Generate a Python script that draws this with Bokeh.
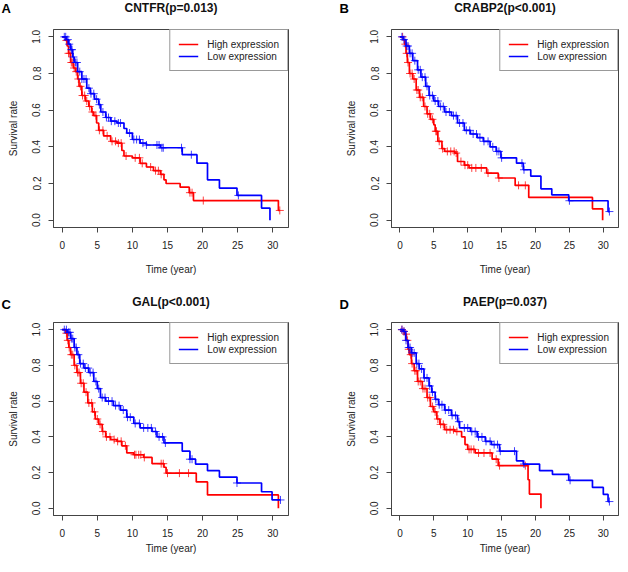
import numpy as np
from bokeh.plotting import figure
from bokeh.layouts import gridplot
from bokeh.models import (Legend, LegendItem, Label, FixedTicker,
                          PrintfTickFormatter)
from bokeh.embed import file_html
from bokeh.resources import INLINE

# ---------------- data ----------------
genes = ["CNTFR", "CRABP2", "GAL", "PAEP"]
pvals = ["p=0.013", "p<0.001", "p<0.001", "p=0.037"]
letters = ["A", "B", "C", "D"]
x_ticks = [0, 5, 10, 15, 20, 25, 30]
y_ticks = [0.0, 0.2, 0.4, 0.6, 0.8, 1.0]
legend_labels = ["High expression", "Low expression"]

# Panel A: CNTFR
a_hi_t = [0.5, 0.7, 0.9, 1.2, 1.6, 1.9, 2.2, 2.4, 2.8, 3.3, 3.8, 4.2, 4.5, 4.9, 5.2, 5.9, 6.9,
          7.8, 8.5, 8.8, 10.0, 11.1, 12.0, 13.0, 14.0, 14.5, 14.8, 16.8, 18.1, 18.7, 30.8]
a_hi_s = [0.98, 0.95, 0.91, 0.86, 0.83, 0.81, 0.77, 0.73, 0.68, 0.65, 0.62, 0.59, 0.57, 0.53,
          0.49, 0.46, 0.43, 0.42, 0.38, 0.35, 0.34, 0.31, 0.29, 0.27, 0.25, 0.22, 0.20, 0.18,
          0.15, 0.107, 0.053]
a_hi_end = 31.0
a_hi_c = [0.6, 0.9, 1.1, 1.3, 1.5, 1.7, 2.0, 2.3, 2.6, 2.9, 3.2, 3.5, 3.9, 4.3, 4.8, 5.3, 5.8,
          6.4, 7.1, 7.6, 8.0, 8.4, 9.1, 10.4, 11.0, 11.4, 12.6, 13.3, 13.7, 14.1, 18.2, 18.5,
          20.1, 31.0]
a_lo_t = [0.6, 0.9, 1.2, 1.5, 1.7, 2.2, 2.8, 3.5, 4.0, 4.6, 5.2, 5.5, 6.2, 6.9, 7.8, 8.8, 9.2,
          10.0, 11.1, 12.0, 14.0, 17.1, 19.2, 20.7, 22.4, 24.9, 28.4, 29.6]
a_lo_s = [0.985, 0.96, 0.93, 0.89, 0.86, 0.81, 0.77, 0.72, 0.69, 0.66, 0.63, 0.59, 0.56, 0.54,
          0.53, 0.50, 0.475, 0.44, 0.42, 0.41, 0.395, 0.357, 0.311, 0.22, 0.175, 0.135, 0.066,
          0.0]
a_lo_end = 29.6
a_lo_c = [0.3, 0.5, 0.8, 1.0, 1.3, 1.4, 1.6, 1.9, 2.1, 2.5, 2.8, 3.1, 3.4, 3.8, 4.1, 4.5, 4.9,
          5.3, 5.8, 6.3, 6.6, 7.0, 7.5, 8.0, 8.3, 9.6, 10.2, 10.6, 11.0, 11.5, 12.0, 13.5, 13.8,
          14.2, 14.4, 17.0, 18.4, 25.1]

# Panel B: CRABP2
b_hi_t = [0.5, 0.7, 0.9, 1.1, 1.4, 1.9, 2.4, 2.9, 3.5, 4.0, 4.5, 5.0, 5.2, 5.6, 6.2, 6.6, 8.1,
          8.5, 9.5, 10.2, 12.8, 14.5, 17.0, 19.0, 28.4, 29.9]
b_hi_s = [0.985, 0.96, 0.91, 0.86, 0.80, 0.77, 0.71, 0.67, 0.62, 0.58, 0.55, 0.52, 0.485, 0.43,
          0.39, 0.375, 0.366, 0.32, 0.30, 0.285, 0.257, 0.23, 0.19, 0.124, 0.062, 0.0]
b_hi_end = 29.9
b_hi_c = [0.4, 0.8, 1.0, 1.2, 1.5, 1.8, 2.1, 2.5, 2.7, 3.0, 3.3, 3.7, 4.1, 4.4, 4.8, 5.3, 5.4,
          5.8, 6.3, 7.0, 7.5, 8.0, 8.3, 9.0, 9.6, 10.0, 10.6, 11.2, 12.0, 13.0, 14.6, 17.5, 18.5]
b_lo_t = [0.5, 0.9, 1.4, 1.9, 2.6, 3.1, 3.8, 4.3, 5.0, 5.7, 6.6, 7.6, 8.5, 9.5, 10.4, 11.4,
          12.3, 13.3, 14.2, 14.9, 17.2, 18.2, 19.3, 20.8, 22.4, 24.9, 30.7]
b_lo_s = [0.985, 0.95, 0.91, 0.87, 0.82, 0.78, 0.73, 0.68, 0.65, 0.62, 0.59, 0.57, 0.53, 0.49,
          0.47, 0.45, 0.43, 0.40, 0.375, 0.34, 0.311, 0.275, 0.24, 0.171, 0.138, 0.106, 0.047]
b_lo_end = 30.9
b_lo_c = [0.3, 0.6, 1.0, 1.2, 1.5, 1.8, 2.2, 2.7, 3.0, 3.3, 3.7, 4.0, 4.4, 4.8, 5.2, 5.6, 6.0,
          6.4, 6.8, 7.3, 7.9, 8.3, 8.8, 9.3, 9.8, 10.3, 10.8, 11.3, 11.8, 12.4, 13.0, 13.7, 14.3,
          14.6, 15.0, 18.0, 18.3, 25.0, 30.9]

# Panel C: GAL
c_hi_t = [0.5, 0.7, 0.95, 1.2, 1.7, 2.1, 2.6, 3.1, 3.65, 4.3, 4.7, 5.2, 5.7, 6.2, 6.9, 7.8,
          8.5, 9.2, 10.2, 11.6, 12.8, 14.5, 14.8, 19.1, 20.7, 30.8]
c_hi_s = [0.98, 0.94, 0.90, 0.86, 0.80, 0.76, 0.70, 0.65, 0.59, 0.54, 0.50, 0.47, 0.43, 0.40,
          0.385, 0.375, 0.35, 0.31, 0.30, 0.285, 0.25, 0.23, 0.197, 0.148, 0.075, 0.0]
c_hi_end = 30.8
c_hi_c = [0.6, 0.8, 1.0, 1.3, 1.5, 1.8, 2.2, 2.4, 2.7, 3.0, 3.4, 3.8, 4.2, 4.6, 5.0, 5.4, 5.8,
          6.3, 6.8, 7.4, 7.9, 8.4, 9.0, 10.3, 10.5, 10.9, 11.2, 11.7, 14.1, 14.4, 15.0, 16.7,
          18.0]
c_lo_t = [0.7, 1.2, 1.7, 2.1, 2.5, 3.1, 3.8, 4.5, 5.0, 5.45, 6.2, 7.3, 8.3, 9.2, 10.2, 11.1,
          12.8, 13.5, 14.5, 17.1, 18.2, 19.0, 20.7, 22.4, 24.9, 28.4, 29.9]
c_lo_s = [0.985, 0.95, 0.90, 0.86, 0.81, 0.785, 0.76, 0.71, 0.67, 0.62, 0.60, 0.575, 0.55,
          0.51, 0.475, 0.45, 0.43, 0.40, 0.366, 0.32, 0.275, 0.248, 0.211, 0.175, 0.142, 0.093,
          0.047]
c_lo_end = 31.1
c_lo_c = [0.3, 0.6, 0.9, 1.1, 1.3, 1.5, 1.8, 2.0, 2.3, 2.6, 3.0, 3.3, 3.7, 4.0, 4.4, 4.8, 5.2,
          5.7, 6.1, 6.6, 7.1, 7.6, 8.1, 8.7, 9.3, 9.7, 10.4, 11.0, 11.6, 12.2, 12.7, 13.3, 13.8,
          14.3, 14.7, 18.2, 18.5, 24.9, 31.1]

# Panel D: PAEP
d_hi_t = [0.5, 0.7, 0.95, 1.2, 1.4, 1.7, 2.1, 2.6, 3.3, 4.0, 4.5, 5.0, 5.45, 5.9, 6.6, 8.1,
          9.1, 9.6, 10.0, 11.1, 13.6, 14.5, 18.9, 19.1, 20.8]
d_hi_s = [0.99, 0.975, 0.94, 0.89, 0.86, 0.81, 0.77, 0.71, 0.67, 0.62, 0.57, 0.54, 0.50, 0.47,
          0.44, 0.43, 0.40, 0.357, 0.33, 0.31, 0.275, 0.239, 0.16, 0.08, 0.0]
d_hi_end = 20.8
d_hi_c = [0.3, 0.6, 0.9, 1.1, 1.3, 1.6, 1.8, 2.2, 2.4, 2.7, 3.0, 3.4, 3.7, 4.1, 4.4, 4.8, 5.2,
          5.6, 6.0, 6.4, 6.9, 7.4, 7.9, 8.4, 10.2, 10.5, 10.9, 11.6, 12.4, 13.3, 14.2, 14.7,
          18.5]
d_lo_t = [0.5, 0.85, 1.2, 1.7, 2.4, 2.85, 3.55, 4.3, 4.7, 5.2, 5.7, 6.6, 7.6, 8.5, 8.8, 10.4,
          11.4, 12.6, 13.5, 14.7, 17.2, 18.2, 20.6, 22.5, 24.9, 28.4, 30.0, 30.7]
d_lo_s = [0.99, 0.94, 0.90, 0.87, 0.81, 0.78, 0.73, 0.685, 0.65, 0.61, 0.58, 0.55, 0.52, 0.485,
          0.45, 0.43, 0.40, 0.375, 0.357, 0.32, 0.266, 0.248, 0.211, 0.19, 0.157, 0.117, 0.078,
          0.038]
d_lo_end = 30.9
d_lo_c = [0.3, 0.6, 0.9, 1.3, 1.5, 1.8, 2.1, 2.5, 2.8, 3.2, 3.6, 4.0, 4.4, 4.8, 5.3, 5.8, 6.2,
          6.7, 7.2, 7.7, 8.2, 8.7, 9.5, 10.0, 10.6, 11.1, 11.6, 12.1, 12.7, 13.3, 13.9, 14.4,
          14.8, 16.9, 18.3, 25.1, 30.9]

panels = [
    (a_hi_t, a_hi_s, a_hi_end, a_hi_c, a_lo_t, a_lo_s, a_lo_end, a_lo_c),
    (b_hi_t, b_hi_s, b_hi_end, b_hi_c, b_lo_t, b_lo_s, b_lo_end, b_lo_c),
    (c_hi_t, c_hi_s, c_hi_end, c_hi_c, c_lo_t, c_lo_s, c_lo_end, c_lo_c),
    (d_hi_t, d_hi_s, d_hi_end, d_hi_c, d_lo_t, d_lo_s, d_lo_end, d_lo_c),
]

# ---------------- styling / layout ----------------
FONT = "Liberation Sans"
RED = "#FF0000"
BLUE = "#0000FF"
AXC = "#444444"
X_RANGE = (-1.24, 32.24)
Y_RANGE = (-0.04, 1.04)

# per column: (width, left border, frame width, letter x (canvas px), letter side panel)
cols = [(310, 53, 235, 1, "right"), (310, 81, 227, 29, "left")]
# per row: (height, top border, frame height, title y, x-axis-label standoff, letter y)
rows = [(278, 29, 198, 7, 12, 8), (278, 44, 194, 23, 3, 26)]


def km_xy(times, surv, end):
    xs = [0.0] + list(times)
    ys = [1.0] + list(surv)
    if end > xs[-1]:
        xs.append(end)
        ys.append(ys[-1])
    return xs, ys


def censor_y(times, surv, cens):
    t = np.asarray(times)
    s = np.concatenate([[1.0], np.asarray(surv)])
    idx = np.searchsorted(t, np.asarray(cens), side="right")
    return s[idx]


def make_panel(i):
    width, bl, fw, letter_x, letter_side = cols[i % 2]
    height, bt, fh, title_y, xlab_standoff, letter_y = rows[i // 2]
    p = figure(width=width, height=height, x_range=X_RANGE, y_range=Y_RANGE,
               output_backend="svg", toolbar_location=None, title_location=None,
               min_border_left=bl, min_border_right=width - bl - fw,
               min_border_top=bt, min_border_bottom=height - bt - fh)
    p.xgrid.visible = False
    p.ygrid.visible = False
    p.outline_line_color = AXC
    p.outline_line_width = 1
    p.background_fill_color = "white"
    p.border_fill_color = "white"

    for ax in (p.xaxis[0], p.yaxis[0]):
        ax.axis_line_color = AXC
        ax.major_tick_line_color = AXC
        ax.minor_tick_line_color = None
        ax.major_tick_out = 5
        ax.major_tick_in = 0
        ax.major_label_text_font = FONT
        ax.major_label_text_font_size = "10px"
        ax.major_label_text_color = "#222222"
        ax.axis_label_text_font = FONT
        ax.axis_label_text_font_size = "10px"
        ax.axis_label_text_font_style = "normal"
        ax.axis_label_text_color = "#222222"
    p.xaxis.ticker = FixedTicker(ticks=x_ticks)
    p.yaxis.ticker = FixedTicker(ticks=y_ticks)
    p.yaxis.formatter = PrintfTickFormatter(format="%.1f")
    p.yaxis.major_label_orientation = "vertical"
    p.xaxis.axis_label = "Time (year)"
    p.yaxis.axis_label = "Survival rate"
    p.xaxis.major_label_standoff = 8
    p.yaxis.major_label_standoff = 8
    p.xaxis.axis_label_standoff = xlab_standoff
    p.yaxis.axis_label_standoff = 11

    hi_t, hi_s, hi_end, hi_c, lo_t, lo_s, lo_end, lo_c = panels[i]
    renderers = []
    for t, s, end, c, color in ((hi_t, hi_s, hi_end, hi_c, RED),
                                (lo_t, lo_s, lo_end, lo_c, BLUE)):
        xs, ys = km_xy(t, s, end)
        r = p.step(xs, ys, mode="after", line_color=color, line_width=1.7)
        p.scatter(c, censor_y(t, s, c), marker="cross", size=8,
                  line_color=color, line_width=1, line_alpha=0.75)
        renderers.append(r)

    legend = Legend(items=[LegendItem(label=legend_labels[0], renderers=[renderers[0]]),
                           LegendItem(label=legend_labels[1], renderers=[renderers[1]])],
                    location="top_right", margin=0, padding=8, spacing=0,
                    glyph_width=20, glyph_height=12, label_height=12,
                    label_standoff=9, label_text_font=FONT,
                    label_text_font_size="10px", label_text_color="#222222",
                    border_line_color="#333333", border_line_width=1,
                    background_fill_color="white", background_fill_alpha=1.0)
    p.add_layout(legend)

    # texts outside the frame live in side panels (not clipped), placed in canvas px
    title = Label(x=bl + fw / 2, y=title_y, x_units="canvas", y_units="canvas",
                  text=f"{genes[i]}({pvals[i]})", text_align="center",
                  text_baseline="middle", text_font=FONT, text_font_size="12px",
                  text_font_style="bold", text_color="#111111")
    p.add_layout(title, "above")
    letter = Label(x=letter_x, y=letter_y, x_units="canvas", y_units="canvas",
                   text=letters[i], text_align="left", text_baseline="middle",
                   text_font=FONT, text_font_size="13px", text_font_style="bold",
                   text_color="#000000")
    p.add_layout(letter, letter_side)
    return p


figs = [make_panel(i) for i in range(4)]
grid = gridplot([[figs[0], figs[1]], [figs[2], figs[3]]], toolbar_location=None)

open("out.html", "w").write(file_html(grid, INLINE))
